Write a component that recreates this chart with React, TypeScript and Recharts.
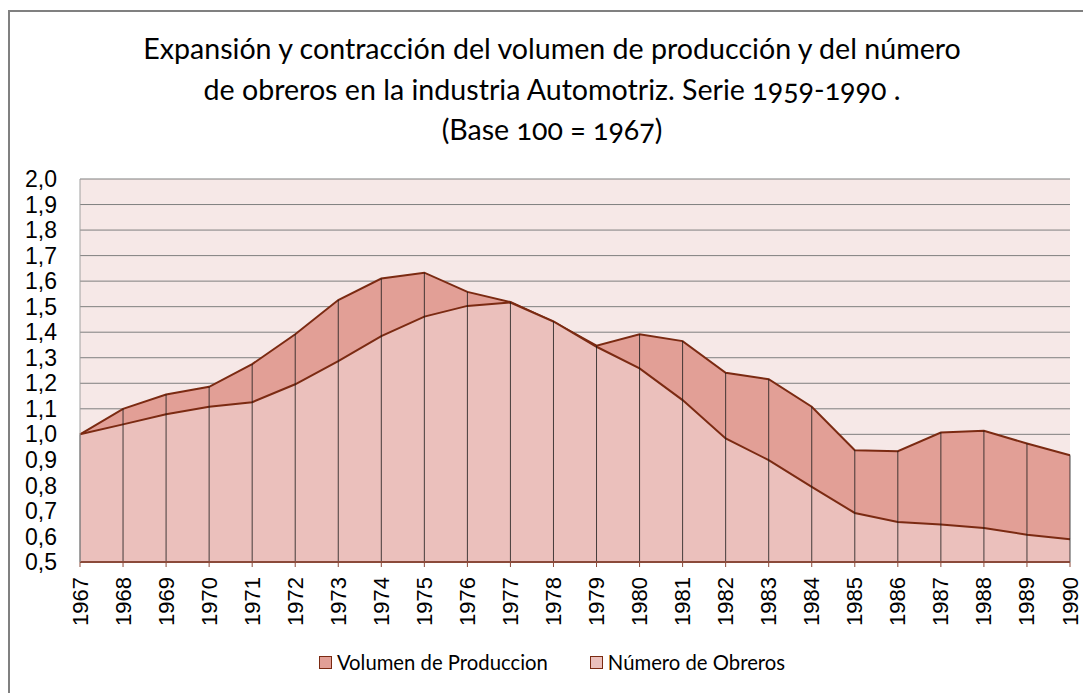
import { AreaChart, Area, XAxis, YAxis, CartesianGrid, ReferenceLine, Legend } from "recharts";

const years = [1967, 1968, 1969, 1970, 1971, 1972, 1973, 1974, 1975, 1976, 1977, 1978, 1979, 1980, 1981, 1982, 1983, 1984, 1985, 1986, 1987, 1988, 1989, 1990];
const produccion = [1.0, 1.1, 1.156, 1.186, 1.275, 1.392, 1.526, 1.61, 1.633, 1.558, 1.518, 1.44, 1.347, 1.392, 1.365, 1.241, 1.216, 1.108, 0.938, 0.934, 1.007, 1.014, 0.964, 0.918];
const obreros = [1.0, 1.039, 1.079, 1.108, 1.126, 1.196, 1.287, 1.385, 1.461, 1.503, 1.516, 1.442, 1.343, 1.258, 1.134, 0.984, 0.899, 0.794, 0.692, 0.657, 0.647, 0.633, 0.607, 0.589];
const yTicks = [0.5, 0.6, 0.7, 0.8, 0.9, 1.0, 1.1, 1.2, 1.3, 1.4, 1.5, 1.6, 1.7, 1.8, 1.9, 2.0];

const titleLines = [
  "Expansión y contracción del volumen de producción y del número",
  "de obreros en la industria Automotriz. Serie 1959-1990 .",
  "(Base 100 = 1967)",
];

const data = years.map((y, i) => ({ year: y, produccion: produccion[i], obreros: obreros[i] }));

const PROD_FILL = "#e29f96";
const OBR_FILL = "#ebc0bc";
const EDGE = "#7b2a12";
const LABEL_FONT = "Lato, 'Open Sans', sans-serif";

function YearTick({ x, y, payload }: any) {
  return (
    <text
      x={x}
      y={y}
      transform={`rotate(-90, ${x}, ${y})`}
      textAnchor="end"
      dominantBaseline="central"
      fontFamily="Arial, 'Liberation Sans', sans-serif"
      fontSize={22}
      fill="#000"
    >
      {payload.value}
    </text>
  );
}

function LegendBox() {
  const items = [
    { name: "Volumen de Produccion", fill: PROD_FILL },
    { name: "Número de Obreros", fill: OBR_FILL },
  ];
  return (
    <div style={{ display: "flex", justifyContent: "center", gap: 42, fontFamily: LABEL_FONT, fontSize: 20.3, color: "#000" }}>
      {items.map((it) => (
        <div key={it.name} style={{ display: "flex", alignItems: "center", gap: 5 }}>
          <span style={{ width: 11, height: 11, background: it.fill, border: `1px solid ${EDGE}`, display: "inline-block" }}></span>
          <span>{it.name}</span>
        </div>
      ))}
    </div>
  );
}

export default function App() {
  return (
    <div style={{ position: "absolute", left: 0, top: 0, width: 1083, height: 693, overflow: "hidden", background: "#fff" }}>
      {/* outer frame */}
      <div style={{ position: "absolute", left: 8, top: 10, width: 1200, height: 800, border: "2px solid #808080" }}></div>

      {/* title */}
      <div style={{ position: "absolute", left: 0, top: 28, width: 1104, textAlign: "center", fontFamily: LABEL_FONT, fontSize: 28.6, lineHeight: "40.5px", color: "#000", fontVariantNumeric: "oldstyle-nums" }}>
        {titleLines.map((t) => (
          <div key={t}>{t}</div>
        ))}
      </div>

      <div style={{ position: "absolute", left: 0, top: 0 }}>
        <AreaChart width={1083} height={693} data={data} margin={{ top: 179, right: 13, left: 0, bottom: 0 }}>
          <CartesianGrid horizontal vertical={false} stroke="#7f7f7f" fill="#f6e8e7" fillOpacity={1} />
          <XAxis
            dataKey="year"
            interval={0}
            height={131}
            tick={<YearTick />}
            tickSize={5}
            tickMargin={10}
            axisLine={{ stroke: "#8b4a3a", strokeWidth: 2 }}
            tickLine={{ stroke: "#8b4a3a" }}
          />
          <YAxis
            domain={[0.5, 2.0]}
            ticks={yTicks}
            interval={0}
            width={80}
            tickSize={0}
            tickMargin={23}
            axisLine={{ stroke: "#a0a0a0" }}
            tickLine={false}
            tickFormatter={(v: number) => v.toFixed(1).replace(".", ",")}
            tick={{ fontFamily: "Arial, 'Liberation Sans', sans-serif", fontSize: 23, fill: "#000" }}
          />
          <Area
            type="linear"
            dataKey="produccion"
            name="Volumen de Produccion"
            fill={PROD_FILL}
            fillOpacity={1}
            stroke={EDGE}
            strokeWidth={2}
            isAnimationActive={false}
          />
          <Area
            type="linear"
            dataKey="obreros"
            name="Número de Obreros"
            fill={OBR_FILL}
            fillOpacity={1}
            stroke={EDGE}
            strokeWidth={2}
            isAnimationActive={false}
          />
          {data.map((d) => (
            <ReferenceLine
              key={d.year}
              segment={[
                { x: d.year, y: 0.5 },
                { x: d.year, y: Math.max(d.produccion, d.obreros) },
              ]}
              stroke="#1a1a1a"
              strokeWidth={1}
              strokeOpacity={0.8}
            />
          ))}
          <Legend
            layout="horizontal"
            verticalAlign="middle"
            align="center"
            content={<LegendBox />}
            wrapperStyle={{ position: "absolute", top: 650, left: 0, width: 1104 }}
          />
        </AreaChart>
      </div>
    </div>
  );
}
